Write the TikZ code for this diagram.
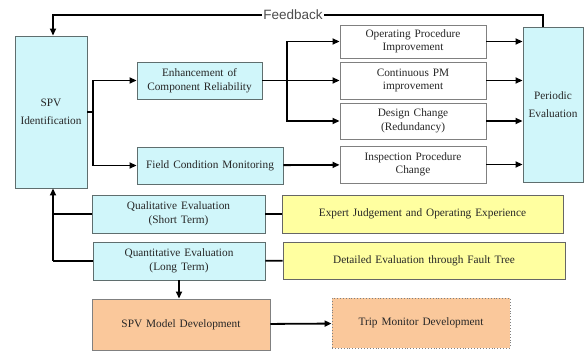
\documentclass[tikz,border=0pt]{standalone}
\usepackage{fontspec}
\setmainfont{Liberation Serif}[WordSpace=1.4]
\newfontfamily\fbfont{Liberation Sans}
\usetikzlibrary{arrows.meta}
\definecolor{boxcyan}{RGB}{208,246,250}
\definecolor{boxyellow}{RGB}{255,255,160}
\definecolor{boxorange}{RGB}{250,200,155}
\definecolor{edgegray}{RGB}{95,110,110}

\begin{document}
\begin{tikzpicture}[x=1pt,y=-1pt,
    box/.style={draw=edgegray,line width=0.9pt,align=center,inner sep=1pt,
      text=black!85,font=\fontsize{11.3}{13.5}\selectfont},
    cyanbox/.style={box,fill=boxcyan},
    whitebox/.style={box,fill=white,draw=gray},
    yellowbox/.style={box,fill=boxyellow,draw=gray!80!black},
    orangebox/.style={box,fill=boxorange,draw=gray},
    arr/.style={-{Triangle[length=7pt,width=6pt]}},
    every path/.style={line width=1.8pt}]
  \useasboundingbox (0,0) rectangle (586,352);
  %\tikzstyle{every node}=[draw];
  \node[cyanbox,minimum width=72pt,minimum height=152pt] (spv) at (51,112) {SPV\\[4pt]Identification};
  \node[cyanbox,minimum width=60pt,minimum height=155pt] (periodic) at (553,104.5) {Periodic\\[4pt]Evaluation};
  \node[cyanbox,minimum width=125pt,minimum height=37pt] (enh) at (199.5,80.5) {Enhancement of\\Component Reliability};
  \node[cyanbox,minimum width=146pt,minimum height=37pt] (field) at (210,165.5) {Field Condition Monitoring};
  \node[whitebox,minimum width=146pt,minimum height=33pt] (opi) at (413,41.5) {Operating Procedure\\Improvement};
  \node[whitebox,minimum width=146pt,minimum height=37pt] (pm) at (413,80.5) {Continuous PM\\improvement};
  \node[whitebox,minimum width=146pt,minimum height=36pt] (design) at (413,121) {Design Change\\(Redundancy)};
  \node[whitebox,minimum width=146pt,minimum height=37pt] (insp) at (413,164.5) {Inspection Procedure\\Change};
  \node[cyanbox,minimum width=173pt,minimum height=38pt] (qual) at (178.5,214) {Qualitative Evaluation\\(Short Term)};
  \node[cyanbox,minimum width=172pt,minimum height=38pt] (quant) at (179,261) {Quantitative Evaluation\\(Long Term)};
  \node[yellowbox,minimum width=281pt,minimum height=38pt] (expert) at (422.5,214) {Expert Judgement and Operating Experience};
  \node[yellowbox,minimum width=282pt,minimum height=37pt] (fault) at (424,260.5) {Detailed Evaluation through Fault Tree};
  \node[orangebox,minimum width=178pt,minimum height=51pt] (model) at (181,324.5) {SPV Model Development};
  \node[orangebox,dotted,minimum width=178pt,minimum height=50pt] (trip) at (421,323) {Trip Monitor Development};

  % feedback loop
  \coordinate (fbR) at (543,15);
  \coordinate (fbL) at (53,15);
  \draw[arr] (periodic.north -| fbR) -- (fbR) -- node[pos=0.51,fill=white,inner sep=1pt,
    text=black!70,font=\fbfont\fontsize{13.5}{14}\selectfont]{Feedback} (fbL) -- (spv.north -| fbL);

  % branches
  \coordinate (s1) at (93,112);
  \coordinate (s2) at (287,80.5);
  \draw (spv.east |- s1) -- (s1);
  \draw[arr] (s1) |- (enh);
  \draw[arr] (s1) |- (field);
  \draw (enh) -- (s2);
  \draw[arr] (s2) |- (opi);
  \draw[arr] (s2) -- (pm);
  \draw[arr] (s2) |- (design);
  \draw[arr] (field) -- (insp);
  \foreach \n in {opi,pm,design,insp}
    \draw[arr] (\n) -- (\n -| periodic.west);

  % evaluation
  \coordinate (s3) at (53,261);
  \draw[arr] (s3) -- (spv.south -| s3);
  \draw (s3) -- (quant);
  \draw (qual.west -| s3) -- (qual);
  \draw (qual) -- (expert);
  \draw (quant) -- (fault);
  \draw[arr] (quant) -- (quant |- model.north);
  \draw[arr] (model) -- (trip);
\end{tikzpicture}
\end{document}
